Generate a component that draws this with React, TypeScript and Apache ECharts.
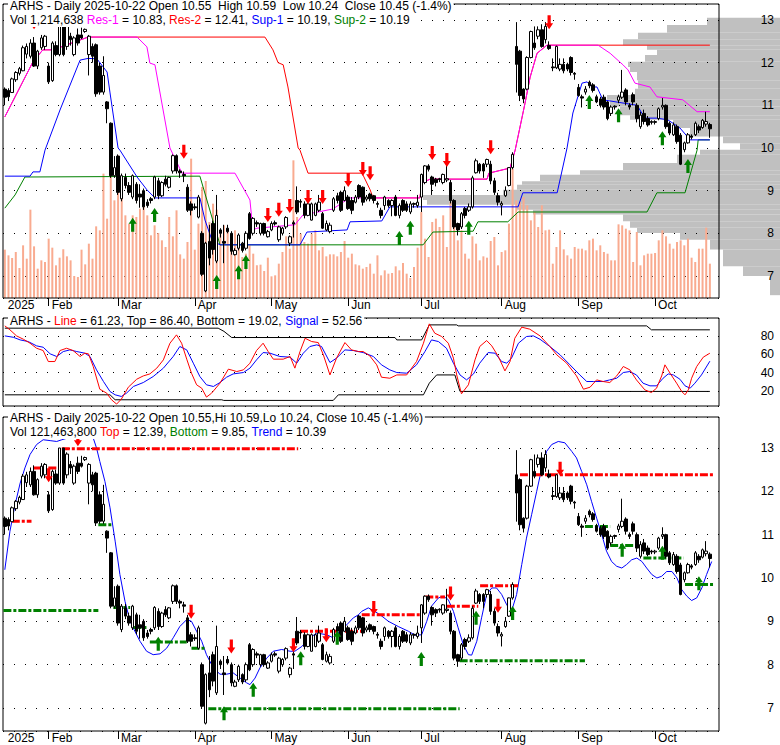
import React, { useEffect, useRef } from 'react';
import * as echarts from 'echarts';

const CATEGORY_COUNT = 196;
const categories = Array.from({ length: CATEGORY_COUNT }, (_, i) => String(i));
const monthStartIndex = [0, 12, 31, 52, 73, 94, 114, 136, 157, 178];
const monthNames = ['2025', 'Feb', 'Mar', 'Apr', 'May', 'Jun', 'Jul', 'Aug', 'Sep', 'Oct'];

// [open, close, low, high]
const ohlc = [
  [11.38, 11.19, 11.0, 11.42], [11.35, 11.2, 11.1, 11.4], [11.3, 11.62, 11.3, 11.65], [11.6, 11.77, 11.55, 11.8], [11.75, 11.86, 11.7, 11.9],
  [11.81, 12.35, 11.8, 12.4], [12.2, 12.38, 12.1, 12.45], [12.15, 12.46, 12.1, 12.55], [12.46, 11.92, 11.9, 12.6], [11.92, 12.27, 11.85, 12.3],
  [12.35, 12.58, 12.3, 12.65], [12.38, 12.62, 12.3, 12.65], [11.92, 11.55, 11.5, 12.0], [11.58, 12.46, 11.55, 12.5], [12.4, 12.19, 12.15, 12.5],
  [12.19, 13.0, 12.15, 13.0], [13.0, 12.19, 12.15, 13.0], [12.38, 12.86, 12.3, 12.9], [12.62, 12.54, 12.4, 12.7], [12.19, 12.58, 12.15, 12.62],
  [12.65, 12.46, 12.4, 12.8], [12.65, 12.58, 12.55, 12.82], [12.73, 12.78, 12.7, 12.8], [12.19, 12.62, 11.7, 12.65], [12.38, 12.15, 12.0, 12.45],
  [12.42, 11.27, 11.2, 12.45], [11.92, 11.31, 11.25, 12.0], [11.31, 11.7, 11.25, 12.15], [11.08, 10.92, 10.58, 11.1], [10.58, 9.35, 9.3, 10.6],
  [9.35, 9.54, 9.3, 9.81], [9.81, 8.96, 8.9, 9.85], [8.81, 9.35, 8.75, 9.4], [9.31, 9.12, 9.05, 9.4], [9.12, 8.96, 8.9, 9.2],
  [8.85, 9.35, 8.8, 9.38], [9.15, 8.77, 8.7, 9.2], [8.92, 8.85, 8.6, 9.15], [9.0, 8.62, 8.55, 9.05], [8.73, 8.65, 8.6, 8.8],
  [8.81, 8.77, 8.7, 8.85], [8.85, 9.32, 8.8, 9.35], [9.23, 8.88, 8.8, 9.3], [8.88, 9.19, 8.85, 9.22], [9.27, 9.15, 9.1, 9.35],
  [9.08, 9.31, 9.05, 9.33], [9.46, 9.82, 9.4, 9.85], [9.82, 9.46, 9.4, 9.85], [9.46, 9.42, 9.3, 9.5], [9.38, 9.35, 9.2, 9.45],
  [9.08, 8.54, 8.5, 9.15], [8.69, 8.54, 8.42, 8.75], [8.62, 8.6, 8.55, 8.7], [8.38, 8.85, 8.35, 8.9], [8.0, 7.04, 7.0, 8.05],
  [6.65, 7.77, 6.62, 7.8], [7.81, 7.42, 7.25, 8.2], [8.23, 7.62, 7.5, 8.3], [7.35, 8.42, 7.3, 8.9], [8.08, 8.0, 7.9, 8.12],
  [7.81, 7.77, 7.3, 8.2], [8.12, 8.04, 8.0, 8.2], [8.0, 7.58, 7.5, 8.05], [7.5, 7.6, 7.48, 7.65], [7.65, 7.96, 7.6, 8.0],
  [7.77, 7.6, 7.55, 7.8], [7.65, 8.0, 7.6, 8.05], [8.46, 7.88, 7.85, 8.5], [8.0, 8.35, 7.95, 8.38], [8.25, 8.22, 8.15, 8.3],
  [8.0, 8.23, 7.95, 8.25], [8.23, 8.0, 7.95, 8.25], [7.92, 8.04, 7.9, 8.08], [8.08, 8.23, 8.05, 8.28], [8.25, 8.22, 8.18, 8.3],
  [7.85, 8.15, 7.8, 8.18], [8.0, 8.12, 7.95, 8.15], [8.15, 8.37, 8.1, 8.4], [7.77, 7.92, 7.7, 7.95], [8.25, 8.22, 7.9, 8.3],
  [8.77, 8.5, 8.45, 9.1], [8.75, 8.73, 8.6, 8.8], [8.69, 8.42, 8.35, 8.75], [8.42, 8.69, 8.4, 8.72], [8.31, 8.69, 8.3, 8.72],
  [8.42, 8.69, 8.4, 8.72], [8.54, 8.73, 8.5, 8.9], [8.46, 8.12, 8.1, 8.5], [8.08, 8.23, 8.05, 8.3], [8.04, 8.19, 8.0, 8.25],
  [8.54, 8.81, 8.5, 8.85], [8.88, 8.77, 8.7, 8.95], [8.96, 8.54, 8.5, 9.0], [8.77, 9.0, 8.75, 9.1], [8.85, 8.58, 8.55, 8.9],
  [8.77, 8.54, 8.45, 8.85], [8.73, 8.85, 8.7, 8.9], [9.12, 8.85, 8.8, 9.15], [9.08, 8.73, 8.65, 9.1], [8.8, 8.85, 8.75, 8.9],
  [8.92, 8.81, 8.75, 8.95], [8.88, 8.77, 8.7, 8.9], [8.7, 8.68, 8.6, 8.75], [8.54, 8.42, 8.35, 8.6], [8.65, 8.85, 8.55, 8.88],
  [8.77, 8.65, 8.6, 8.8], [8.65, 8.77, 8.4, 8.8], [8.85, 8.42, 8.4, 8.9], [8.42, 8.65, 8.35, 8.7], [8.77, 8.54, 8.5, 8.8],
  [8.69, 8.54, 8.5, 8.75], [8.5, 8.69, 8.45, 8.75], [8.7, 8.68, 8.6, 8.72], [8.65, 8.73, 8.6, 8.9], [8.85, 9.38, 8.5, 9.4],
  [9.19, 9.58, 9.15, 9.6], [9.58, 9.5, 9.45, 9.62], [9.32, 9.15, 8.9, 9.35], [9.27, 9.19, 9.1, 9.3], [9.28, 9.26, 9.2, 9.3],
  [9.19, 9.38, 9.15, 9.4], [9.25, 9.28, 9.2, 9.75], [9.19, 8.77, 8.7, 9.25], [8.77, 8.15, 8.1, 8.8], [8.23, 8.08, 7.95, 8.25],
  [8.15, 8.46, 8.1, 8.5], [8.58, 8.42, 8.35, 8.62], [8.54, 8.62, 8.5, 8.7], [8.62, 9.3, 8.58, 9.35], [9.42, 9.7, 9.4, 9.75],
  [9.62, 9.46, 9.4, 9.65], [9.62, 9.46, 9.3, 9.65], [9.62, 9.73, 9.55, 9.75], [9.62, 9.23, 9.15, 9.7], [9.23, 8.96, 8.9, 9.3],
  [8.88, 8.73, 8.65, 8.95], [8.66, 8.7, 8.42, 8.75], [8.88, 9.0, 8.85, 9.1], [9.12, 9.54, 9.1, 9.55], [9.54, 9.85, 9.5, 9.9],
  [12.38, 11.96, 11.3, 12.95], [12.27, 11.23, 11.1, 12.3], [11.38, 11.15, 11.05, 11.4], [11.38, 12.12, 11.35, 12.15], [12.12, 12.73, 12.1, 12.75],
  [12.46, 12.35, 12.3, 12.85], [12.62, 12.77, 12.55, 12.85], [12.77, 12.38, 12.35, 12.9], [12.54, 12.85, 12.45, 12.95], [12.4, 12.33, 12.3, 12.5],
  [11.9, 11.88, 11.8, 12.1], [11.88, 12.38, 11.85, 12.4], [11.85, 11.96, 11.8, 12.1], [11.96, 11.81, 11.75, 12.1], [11.96, 11.85, 11.8, 12.0],
  [12.12, 11.77, 11.7, 12.15], [11.75, 11.73, 11.6, 11.78], [11.42, 11.23, 11.2, 11.5], [11.2, 11.17, 10.95, 11.25], [11.31, 11.38, 11.25, 11.45],
  [11.54, 11.46, 11.4, 11.58], [11.48, 11.35, 11.3, 11.52], [11.2, 11.08, 11.05, 11.25], [11.15, 11.0, 10.95, 11.2], [11.19, 10.96, 10.9, 11.25],
  [11.08, 10.69, 10.65, 11.1], [10.81, 10.96, 10.75, 11.0], [10.98, 10.96, 10.9, 11.0], [11.12, 11.2, 11.05, 11.25], [11.19, 11.31, 11.15, 11.83],
  [11.36, 11.08, 11.0, 11.4], [11.0, 10.96, 10.9, 11.05], [11.25, 11.08, 11.0, 11.3], [11.0, 10.69, 10.6, 11.05], [10.5, 10.77, 10.45, 10.85],
  [10.81, 10.62, 10.55, 10.9], [10.69, 10.54, 10.5, 10.75], [10.62, 10.6, 10.55, 10.65], [10.6, 10.62, 10.55, 10.65], [10.69, 10.92, 10.65, 10.95],
  [10.96, 11.0, 10.9, 11.17], [11.0, 10.5, 10.45, 11.02], [10.58, 10.35, 10.3, 10.62], [10.31, 10.54, 10.28, 10.6], [10.5, 10.15, 10.1, 10.55],
  [10.3, 9.62, 9.6, 10.35], [9.96, 10.12, 9.9, 10.15], [10.12, 10.31, 10.1, 10.35], [10.28, 10.25, 10.2, 10.32], [10.31, 10.58, 10.28, 10.62],
  [10.5, 10.42, 10.35, 10.55], [10.48, 10.65, 10.45, 10.68], [10.56, 10.62, 10.5, 10.85], [10.55, 10.45, 10.24, 10.59],
];

// volume in thousands of shares
const volume = [
  1160, 1024, 960, 1104, 720, 1264, 944, 2120, 1240, 704,
  904, 864, 1424, 1208, 784, 968, 1168, 1000, 904, 528,
  504, 1160, 808, 1304, 944, 1720, 1624, 2984, 1904, 3024,
  2344, 3424, 2504, 1984, 1784, 1984, 1944, 2144, 2504, 1984,
  1504, 1744, 1560, 1384, 1224, 1944, 1480, 2104, 1048, 944,
  1344, 3344, 1160, 1784, 2664, 2808, 1824, 2264, 2120, 1544,
  1744, 1664, 1344, 1624, 1464, 984, 1064, 1264, 1064, 784,
  800, 648, 968, 520, 544, 824, 1104, 1480, 1184, 3304,
  1944, 1544, 1344, 1304, 1544, 1624, 1144, 1224, 1000, 1048,
  1048, 1000, 1104, 1368, 968, 1064, 808, 784, 704, 744,
  824, 584, 1024, 544, 664,
  584, 600, 760, 664, 840, 584, 480, 744, 1208, 2064,
  1424, 984, 1824, 1904, 1704, 1984, 1224, 2304, 2184, 1384,
  1624, 1064, 944, 1480, 1304, 904, 1000, 968, 1368, 1464,
  784, 1104, 1144, 1784, 3104, 2344, 2304, 2424, 2224, 1864,
  2064, 1704, 2224, 1624, 1640, 824, 1224, 1624, 1168, 1024,
  944, 1224, 1184, 1184, 1144, 1384, 1424, 1144, 1264, 1104,
  1064, 904, 904, 1768, 1744, 1664, 1624, 864, 1584, 784,
  1024, 1064, 1064, 1080, 1384, 1624, 1480, 1304, 1184, 1344,
  1384, 1264, 1424, 968, 864, 1184, 1184, 1688, 824,
];

// volume-by-price profile: [priceLow, priceHigh, relative volume]
const profileBins = [
  [12.88, 13.05, 73], [12.7, 12.88, 113], [12.55, 12.7, 142], [12.41, 12.55, 157], [12.3, 12.41, 133],
  [12.18, 12.3, 123], [12.02, 12.18, 135], [11.9, 12.02, 152], [11.78, 11.9, 150], [11.59, 11.78, 143],
  [11.39, 11.59, 142], [11.24, 11.39, 145], [11.13, 11.24, 173], [10.97, 11.13, 170], [10.77, 10.97, 160],
  [10.66, 10.77, 150], [10.47, 10.66, 107], [10.27, 10.47, 90], [10.11, 10.27, 57], [9.96, 10.11, 40],
  [9.84, 9.96, 80], [9.65, 9.84, 103], [9.48, 9.65, 157], [9.37, 9.48, 200], [9.22, 9.37, 240],
  [9.14, 9.22, 258], [9.02, 9.14, 263], [8.9, 9.02, 277], [8.78, 8.9, 357], [8.67, 8.78, 353],
  [8.55, 8.67, 263], [8.44, 8.55, 247], [8.28, 8.44, 157], [8.13, 8.28, 150], [8.01, 8.13, 143],
  [7.85, 8.01, 100], [7.62, 7.85, 70], [7.23, 7.62, 57], [7.0, 7.23, 37], [6.55, 7.0, 10],
];

const res1 = [
  [0, 10.73], [7.7, 12.02], [10.4, 12.3], [13.2, 12.3], [22.8, 12.6], [36.2, 12.6], [38.9, 12.37], [39.7, 11.99],
  [41.1, 11.95], [45.2, 10.0], [48.5, 9.41], [63.0, 9.41], [67.1, 8.78], [67.9, 8.08], [69.0, 8.12], [79.4, 8.2],
  [81.6, 8.43], [89.8, 8.57], [92.6, 8.73], [94.5, 8.83], [113.6, 8.83], [114.2, 9.18], [116.4, 9.27], [132.0, 9.27],
  [132.5, 9.41], [138.3, 9.53], [139.7, 9.95], [142.4, 11.05], [143.8, 11.66], [145.7, 12.22], [148.4, 12.41],
  [162.4, 12.41], [165.7, 12.22], [169.2, 11.95], [170.6, 11.83], [172.5, 11.52], [176.6, 11.43], [178.5, 11.2],
  [185.6, 11.13], [189.5, 10.85], [193.0, 10.85],
];
const res2 = [
  [0, 10.73], [7.7, 12.02], [10.4, 12.3], [13.2, 12.3], [22.8, 12.6], [71.2, 12.6], [73.4, 12.3], [74.8, 12.0],
  [76.2, 11.95], [77.5, 11.43], [80.3, 10.0], [80.8, 9.95], [83.0, 9.41], [97.8, 9.41], [100.0, 9.02], [100.8, 8.83],
  [113.6, 8.83], [114.2, 9.18], [116.4, 9.27], [132.0, 9.27], [132.5, 9.41], [138.3, 9.53], [139.7, 9.95],
  [142.4, 11.05], [143.8, 11.66], [145.7, 12.22], [148.4, 12.41], [193.0, 12.41],
];
const sup1 = [
  [0, 9.34], [6.9, 9.34], [7.7, 9.44], [9.6, 9.44], [11.0, 9.95], [15.1, 10.89], [20.6, 12.06], [22.8, 12.1],
  [25.2, 12.09], [28.0, 11.78], [28.8, 11.29], [31.0, 10.0], [31.5, 9.95], [36.2, 9.32], [38.9, 9.02], [41.1, 8.83],
  [53.4, 8.83], [54.8, 8.31], [56.7, 7.84], [58.1, 7.77], [58.9, 7.73], [80.8, 7.73], [82.7, 8.03], [93.7, 8.08],
  [94.5, 8.27], [103.2, 8.29], [105.4, 8.62], [140.5, 8.62], [141.8, 8.95], [151.2, 8.95], [153.9, 10.0],
  [155.5, 10.82], [158.0, 11.52], [159.4, 11.55], [160.7, 11.43], [162.1, 11.43], [163.7, 11.13], [173.1, 11.0],
  [175.2, 10.7], [178.5, 10.7], [181.5, 10.66], [184.8, 10.47], [187.6, 10.19], [193.0, 10.19],
];
const sup2 = [
  [0, 8.59], [2.8, 8.9], [5.5, 9.32], [53.4, 9.34], [58.9, 7.73], [114.5, 7.73], [117.2, 8.03], [128.2, 8.05],
  [129.5, 8.27], [137.7, 8.27], [140.5, 8.5], [175.8, 8.5], [178.5, 8.95], [186.2, 8.95], [189.5, 9.95],
  [189.8, 10.19], [193.0, 10.19],
];

const topRedArrows = [[8, 12.95], [49, 9.91], [72, 8.43], [75, 8.55], [78, 8.64], [83, 8.85], [87, 8.85], [94, 9.25], [98, 9.51], [100, 9.41], [117, 9.88], [121, 9.72], [133, 10.02], [149, 12.95]];
const topGreenArrows = [[35, 8.2], [41, 8.43], [58, 6.86], [64, 7.09], [66, 7.33], [108, 7.89], [111, 8.13], [127, 8.13], [160, 11.08], [168, 10.77], [180, 10.23], [187, 9.58]];

// oscillator panel
const oscTop = [[0, 88.5], [58.4, 88.5], [60, 85], [62.1, 78.3], [106.8, 78.3], [107.3, 75.7], [114.1, 75.7], [116.2, 92.1], [123.7, 92.1], [124.1, 91.0], [175.7, 91.0], [177.0, 86.7], [193.0, 86.7]];
const oscBottom = [[0, 15.8], [28.8, 15.8], [30.2, 10.4], [59.4, 10.4], [59.9, 9.7], [89.9, 9.7], [91.3, 15.8], [114.6, 15.8], [116.2, 28.5], [118.2, 37.5], [123.2, 37.5], [124.6, 19.5], [193.0, 19.5]];
const oscLine = [
  [0, 91.0], [1.4, 86.7], [3.2, 80.1], [5.1, 76.4], [6.9, 72.1], [8.7, 66.6], [10.5, 64.1], [11.9, 52.1], [13.7, 52.1],
  [15.1, 64.1], [16.9, 66.6], [18.7, 64.1], [20.6, 57.6], [21.9, 61.2], [22.9, 60.5], [24.2, 46.7], [26.0, 21.9],
  [27.9, 17.6], [29.2, 10.4], [30.6, 5.7], [31.9, 11.1], [33.8, 24.1], [36.1, 32.8], [37.9, 36.4], [39.7, 38.6],
  [41.6, 44.9], [43.4, 53.9], [45.2, 72.1], [47.0, 81.2], [48.4, 72.1], [49.8, 54.7], [51.1, 39.4], [52.5, 26.7],
  [53.9, 23.0], [55.2, 13.3], [56.6, 17.6], [58.9, 28.5], [61.2, 43.8], [63.5, 41.2], [65.3, 43.0], [67.1, 50.3],
  [68.9, 64.1], [70.7, 72.1], [72.1, 63.0], [73.5, 54.7], [76.2, 54.7], [78.1, 57.6], [79.4, 44.9], [80.8, 63.0],
  [82.2, 77.5], [84.0, 73.9], [85.8, 72.8], [87.2, 59.4], [89.0, 37.5], [90.8, 55.8], [93.1, 72.8], [94.9, 64.8],
  [96.8, 63.0], [98.1, 63.0], [99.9, 58.3], [101.8, 48.5], [103.1, 35.0], [105.4, 33.9], [107.3, 37.5], [110.0, 37.5],
  [112.7, 52.1], [114.6, 72.1], [116.2, 93.2], [117.7, 83.0], [119.6, 79.4], [121.4, 72.1], [122.8, 55.8], [123.7, 37.5],
  [125.0, 16.9], [126.9, 26.7], [128.7, 53.9], [130.0, 68.5], [131.9, 75.0], [133.3, 69.2], [135.1, 57.6], [136.9, 41.9],
  [138.3, 52.1], [139.6, 77.5], [141.5, 89.6], [143.7, 87.4], [146.5, 80.1], [149.2, 68.5], [151.1, 59.4], [153.8, 50.3],
  [156.5, 36.4], [158.4, 21.9], [160.2, 24.1], [162.0, 32.1], [163.8, 30.3], [165.6, 29.2], [167.5, 36.4], [169.3, 46.7],
  [171.1, 43.0], [172.9, 32.1], [175.2, 21.2], [177.0, 18.3], [178.4, 23.0], [179.8, 36.4], [180.7, 48.5], [182.1, 39.4],
  [183.9, 28.5], [185.3, 19.4], [186.2, 15.8], [187.1, 21.2], [188.0, 33.9], [189.4, 46.7], [191.2, 56.9], [193.0, 61.2],
];
const oscSignal = [
  [0, 80.1], [2.3, 78.6], [4.2, 75.7], [6.4, 73.9], [8.7, 69.2], [10.5, 67.7], [12.4, 60.5], [14.2, 57.6], [16.0, 63.0],
  [17.8, 64.8], [19.7, 63.0], [21.9, 61.2], [23.3, 57.6], [25.1, 43.0], [27.0, 30.3], [28.8, 19.4], [30.2, 15.8],
  [31.9, 14.0], [33.3, 17.6], [35.2, 24.9], [37.9, 29.2], [40.6, 35.7], [43.4, 44.9], [46.1, 57.6], [47.9, 68.5],
  [49.8, 64.8], [51.6, 50.3], [53.4, 35.7], [55.2, 26.7], [57.1, 24.9], [58.9, 29.2], [60.7, 35.0], [62.5, 38.6],
  [65.3, 40.1], [67.1, 44.9], [68.9, 53.9], [70.7, 61.9], [72.6, 61.2], [75.3, 57.6], [78.1, 56.9], [79.9, 50.3],
  [81.7, 61.2], [83.5, 68.5], [85.4, 70.3], [86.7, 68.5], [89.0, 51.0], [90.8, 55.8], [93.1, 64.8], [95.4, 64.1],
  [98.1, 61.9], [100.9, 57.6], [103.1, 48.5], [105.4, 43.0], [107.3, 40.1], [110.0, 39.4], [112.7, 48.5], [115.0, 63.0],
  [116.8, 75.7], [118.7, 73.9], [120.9, 66.6], [122.8, 50.3], [124.6, 37.5], [126.4, 32.1], [128.3, 38.6], [130.0, 50.3],
  [132.3, 61.9], [134.2, 61.2], [136.0, 52.1], [137.4, 50.3], [138.7, 55.8], [140.6, 72.1], [142.8, 79.4], [144.7, 80.1],
  [146.5, 76.4], [149.2, 68.5], [152.0, 59.4], [154.7, 48.5], [157.4, 37.5], [159.3, 30.3], [161.1, 30.3], [163.8, 30.3],
  [165.6, 32.1], [167.5, 33.9], [169.3, 40.1], [171.1, 41.2], [172.9, 37.5], [174.7, 28.5], [176.6, 25.6], [178.4, 25.6],
  [180.2, 33.9], [181.6, 38.6], [183.0, 37.5], [184.8, 32.8], [186.2, 25.6], [187.6, 23.0], [188.9, 28.5], [190.7, 37.5],
  [193.0, 52.5],
];

// bottom panel
const trend = [
  [0, 10.19], [1.4, 11.08], [2.8, 11.69], [4.2, 12.19], [5.5, 12.54], [6.9, 12.85], [8.7, 13.08], [10.5, 13.19],
  [12.4, 13.17], [14.2, 13.15], [15.6, 13.19], [20.0, 13.3], [24.2, 13.23], [25.1, 13.0], [26.0, 12.69], [27.4, 12.23],
  [28.8, 11.62], [30.2, 10.85], [31.5, 10.08], [32.9, 9.46], [34.3, 9.0], [35.6, 8.77], [37.0, 8.54], [38.8, 8.31],
  [40.6, 8.23], [42.5, 8.25], [44.3, 8.38], [46.1, 8.62], [47.9, 8.88], [49.8, 9.04], [51.1, 9.0], [52.5, 8.77],
  [53.9, 8.54], [55.2, 8.23], [57.1, 7.92], [58.9, 7.78], [60.7, 7.78], [62.5, 7.81], [64.4, 7.69], [66.2, 7.58],
  [67.1, 7.54], [68.5, 7.69], [69.8, 7.92], [71.7, 8.15], [73.5, 8.31], [75.8, 8.35], [78.1, 8.31], [79.4, 8.31],
  [81.3, 8.42], [83.5, 8.62], [85.4, 8.73], [88.1, 8.69], [89.9, 8.62], [91.7, 8.77], [93.6, 8.92], [95.4, 9.08],
  [96.8, 9.15], [97.7, 9.23], [99.5, 9.31], [101.3, 9.23], [103.2, 9.12], [105.0, 9.0], [107.7, 8.88], [110.5, 8.77],
  [112.3, 8.68], [114.1, 8.69], [115.5, 9.0], [116.8, 9.35], [118.7, 9.54], [120.0, 9.58], [121.4, 9.5], [122.8, 9.23],
  [124.1, 8.85], [125.5, 8.46], [126.9, 8.23], [127.8, 8.22], [129.2, 8.54], [130.5, 9.08], [131.9, 9.62], [133.3, 9.77],
  [134.6, 9.77], [136.0, 9.62], [137.4, 9.38], [138.7, 9.23], [140.1, 9.62], [141.5, 10.31], [142.8, 10.92], [144.2, 11.46],
  [145.6, 12.0], [147.0, 12.54], [148.3, 12.92], [149.7, 13.08], [151.5, 13.15], [153.3, 13.12], [155.2, 12.92], [156.5, 12.77],
  [157.9, 12.46], [159.3, 12.15], [160.6, 11.77], [162.0, 11.38], [163.4, 11.0], [164.7, 10.62], [166.1, 10.38], [167.5, 10.27],
  [168.9, 10.23], [170.2, 10.31], [171.6, 10.42], [173.0, 10.46], [174.4, 10.38], [175.7, 10.23], [177.1, 10.08], [178.5, 10.0],
  [179.8, 10.04], [181.2, 10.15], [182.6, 10.15], [184.0, 10.0], [185.3, 9.73], [186.7, 9.58], [188.0, 9.48], [189.4, 9.54],
  [190.8, 9.77], [192.1, 10.08], [193.5, 10.38],
];
// [startIndex, endIndex, price]
const topLevels = [
  [1.9, 7.3, 11.31], [7.8, 14.6, 12.54], [15.6, 80.3, 12.98], [80.8, 97.7, 8.77], [97.7, 113.7, 9.15],
  [115.1, 120.5, 9.56], [121.0, 129.6, 9.35], [130.1, 140.5, 9.82], [141.0, 193.9, 12.38],
];
const bottomLevels = [
  [-0.4, 25.6, 9.25], [25.6, 29.7, 11.23], [29.7, 34.3, 9.32], [35.2, 39.3, 8.86], [39.7, 49.8, 8.52],
  [51.1, 55.2, 8.38], [55.7, 124.5, 6.98], [124.5, 158.8, 8.09], [158.8, 165.7, 11.19], [165.7, 172.5, 10.75],
  [174.8, 185.8, 10.46], [186.2, 193.9, 9.85],
];
const botRedArrows = [[12, 12.37], [20, 13.2], [51, 9.22], [62, 8.42], [79, 8.45], [88, 8.68], [101, 9.31], [122, 9.64], [135, 9.36], [152, 12.52]];
const botGreenArrows = [[42, 8.48], [60, 6.88], [68, 7.42], [81, 8.15], [91, 8.62], [114, 8.13], [129, 9.08], [139, 9.19], [169, 10.65], [180, 10.58], [190, 9.88]];

const DOWN = 'path://M3,0L7,0L7,8L10,8L5,14L0,8L3,8Z';
const UP = 'path://M5,0L10,6L7,6L7,14L3,14L3,6L0,6Z';
const FONT = 'Liberation Sans, Arial, sans-serif';
const RED = '#ff0000';
const GREEN = '#008000';
const BLUE = '#0000ff';
const MAGENTA = '#ff00ff';

function buildOption() {
  const isMonth = (idx: number) => monthStartIndex.indexOf(idx) >= 0;
  const monthAxis = (gridIndex: number) => ({
    type: 'category', gridIndex, data: categories, boundaryGap: true,
    axisLine: { show: false },
    axisTick: { show: true, alignWithLabel: true, length: 8, interval: (i: number) => isMonth(i) && i > 0, lineStyle: { color: '#000', width: 1 } },
    axisLabel: {
      show: true, interval: (i: number) => isMonth(i), margin: 1, align: 'left', padding: [0, 0, 0, 3],
      fontSize: 12, color: '#000', fontFamily: FONT,
      formatter: (v: string) => { const k = monthStartIndex.indexOf(Number(v)); return k >= 0 ? monthNames[k] : ''; },
    },
    splitLine: { show: false },
  });
  const hiddenValueX = (gridIndex: number) => ({ type: 'value', gridIndex, min: -0.5, max: CATEGORY_COUNT - 0.5, show: false });
  const priceY = (gridIndex: number, min: number, max: number, splitNumber: number) => ({
    type: 'value', gridIndex, position: 'right', min, max, splitNumber, z: 1,
    axisLine: { show: false }, axisTick: { show: false },
    axisLabel: { show: true, showMinLabel: false, showMaxLabel: false, align: 'right', margin: 55, fontSize: 12, color: '#000', fontFamily: FONT },
    splitLine: { show: true, lineStyle: { color: '#000', width: 1, type: [1, 10] } },
  });
  const lineSeries = (data: number[][], color: string, xAxisIndex: number, yAxisIndex: number, z: number) => ({
    type: 'line', data, xAxisIndex, yAxisIndex, showSymbol: false, symbol: 'none', z,
    lineStyle: { color, width: 1 }, itemStyle: { color }, silent: true,
  });
  const arrows = (data: number[][], symbol: string, color: string, xAxisIndex: number, yAxisIndex: number) => ({
    type: 'scatter', data, xAxisIndex, yAxisIndex, symbol, symbolSize: [8, 14], z: 6, itemStyle: { color, opacity: 1 }, silent: true,
  });
  const candle = (xAxisIndex: number, yAxisIndex: number) => ({
    type: 'candlestick', data: ohlc, xAxisIndex, yAxisIndex, barWidth: 3, z: 5,
    itemStyle: { color: '#ffffff', color0: '#000000', borderColor: '#000000', borderColor0: '#000000', borderWidth: 1 },
  });
  const levels = (data: number[][], color: string) => ({
    type: 'custom', data, xAxisIndex: 4, yAxisIndex: 3, z: 3, silent: true,
    encode: { x: [0, 1], y: 2 },
    renderItem: (params: any, api: any) => {
      const a = api.coord([api.value(0), api.value(2)]);
      const b = api.coord([api.value(1), api.value(2)]);
      return { type: 'line', shape: { x1: a[0], y1: a[1], x2: b[0], y2: b[1] }, style: { stroke: color, lineWidth: 3, lineDash: [8, 2, 3, 2] } };
    },
  });
  const titleBox = (text: string, left: number, top: number, lineHeight: number) => ({
    text, left, top, padding: [0, 2, 0, 2], backgroundColor: '#ffffff', itemGap: 0, z: 100, zlevel: 1,
    textStyle: {
      fontSize: 12, fontWeight: 'normal', color: '#000', fontFamily: FONT, lineHeight,
      rich: {
        m: { color: MAGENTA, fontSize: 12, fontFamily: FONT, lineHeight },
        r: { color: RED, fontSize: 12, fontFamily: FONT, lineHeight },
        b: { color: BLUE, fontSize: 12, fontFamily: FONT, lineHeight },
        g: { color: GREEN, fontSize: 12, fontFamily: FONT, lineHeight },
      },
    },
  });

  return {
    animation: false,
    backgroundColor: '#ffffff',
    textStyle: { fontFamily: FONT },
    title: [
      titleBox('ARHS - Daily 2025-10-22 Open 10.55  High 10.59  Low 10.24  Close 10.45 (-1.4%)', 8, -1, 13),
      titleBox('Vol 1,214,638 {m|Res-1} = 10.83, {r|Res-2} = 12.41, {b|Sup-1} = 10.19, {g|Sup-2} = 10.19', 8, 13, 14),
      titleBox('ARHS - {r|Line} = 61.23, Top = 86.40, Bottom = 19.02, {b|Signal} = 52.56', 8, 314, 13),
      titleBox('ARHS - Daily 2025-10-22 Open 10.55,Hi 10.59,Lo 10.24, Close 10.45 (-1.4%)', 8, 411, 13),
      titleBox('Vol 121,463,800 {r|Top} = 12.39, {g|Bottom} = 9.85, {b|Trend} = 10.39', 8, 425, 14),
    ],
    grid: [
      { left: 3, right: 61, top: 4, height: 294, show: true, borderColor: '#000', borderWidth: 1, backgroundColor: 'transparent', z: 2 },
      { left: 3, right: 61, top: 318, height: 88, show: true, borderColor: '#000', borderWidth: 1, backgroundColor: 'transparent' },
      { left: 3, right: 61, top: 417, height: 314, show: true, borderColor: '#000', borderWidth: 1, backgroundColor: 'transparent' },
      { left: 3, right: 0, top: 4, height: 294, show: false },
    ],
    xAxis: [
      monthAxis(0),
      hiddenValueX(0),
      hiddenValueX(1),
      monthAxis(2),
      hiddenValueX(2),
      { type: 'value', gridIndex: 3, min: 0, max: 777, inverse: true, show: false },
    ],
    yAxis: [
      priceY(0, 6.484, 13.375, 7),
      { type: 'value', gridIndex: 0, min: 0, max: 7056, show: false },
      priceY(1, 3.6, 99.6, 5),
      priceY(2, 6.469, 13.715, 7),
      { type: 'value', gridIndex: 3, min: 6.484, max: 13.375, show: false },
    ],
    series: [
      {
        type: 'custom', data: profileBins, xAxisIndex: 5, yAxisIndex: 4, z: -1, silent: true,
        encode: { x: 2, y: [0, 1] },
        renderItem: (params: any, api: any) => {
          const a = api.coord([api.value(2), api.value(1)]);
          const b = api.coord([0, api.value(0)]);
          return { type: 'rect', shape: { x: Math.min(a[0], b[0]), y: a[1], width: Math.abs(b[0] - a[0]), height: b[1] - a[1] }, style: { fill: '#c0c0c0' } };
        },
      },
      { type: 'bar', data: volume, xAxisIndex: 0, yAxisIndex: 1, barWidth: 2, z: 1, silent: true, itemStyle: { color: '#f9ab90' } },
      lineSeries(res2, RED, 1, 0, 2),
      lineSeries(res1, MAGENTA, 1, 0, 3),
      lineSeries(sup2, GREEN, 1, 0, 2),
      lineSeries(sup1, BLUE, 1, 0, 3),
      candle(0, 0),
      arrows(topRedArrows, DOWN, RED, 1, 0),
      arrows(topGreenArrows, UP, GREEN, 1, 0),
      lineSeries(oscTop, '#000000', 2, 2, 2),
      lineSeries(oscBottom, '#000000', 2, 2, 2),
      lineSeries(oscSignal, BLUE, 2, 2, 3),
      lineSeries(oscLine, RED, 2, 2, 4),
      lineSeries(trend, BLUE, 4, 3, 2),
      levels(topLevels, RED),
      levels(bottomLevels, GREEN),
      candle(3, 3),
      arrows(botRedArrows, DOWN, RED, 4, 3),
      arrows(botGreenArrows, UP, GREEN, 4, 3),
    ],
  };
}

export default function App() {
  const ref = useRef<HTMLDivElement>(null);
  useEffect(() => {
    if (!ref.current) return;
    const chart = echarts.init(ref.current, undefined, { renderer: 'svg' });
    chart.setOption(buildOption() as any);
    return () => chart.dispose();
  }, []);
  return <div ref={ref} style={{ position: 'absolute', left: 0, top: 0, width: 780, height: 745 }} />;
}
